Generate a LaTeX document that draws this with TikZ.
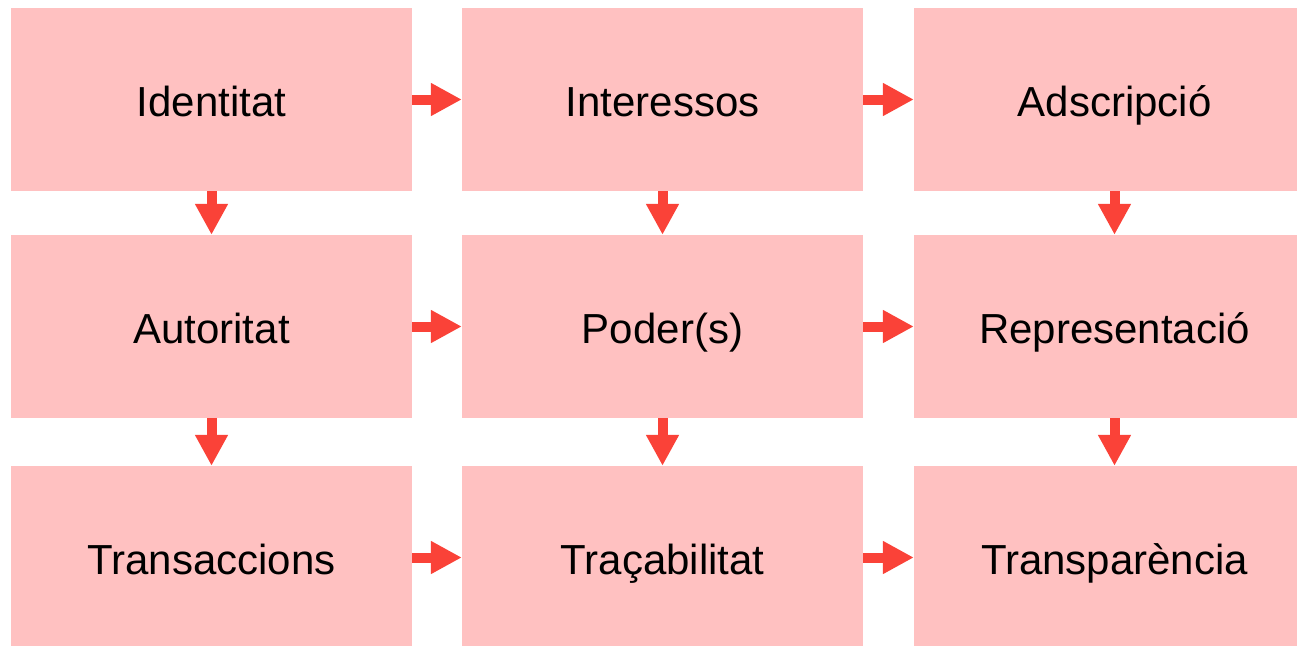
\documentclass[tikz,border=0pt]{standalone}
\usepackage{fontspec}
\setmainfont{Liberation Sans}
\usetikzlibrary{arrows.meta}
\definecolor{boxpink}{RGB}{255,193,193}
\definecolor{flowred}{RGB}{250,66,56}
\tikzset{
  box/.style={rectangle, fill=boxpink, inner sep=0pt, minimum width=401pt, minimum height=183pt,
    text height=40pt, text depth=7pt, font=\fontsize{42}{46}\selectfont},
  flow/.style={draw=flowred, line width=10pt, -{Triangle[length=31pt,width=31pt]}}
}
\begin{document}
\begin{tikzpicture}[x=1pt,y=-1pt]
\useasboundingbox (0,0) rectangle (1297,645);
\clip (0,0) rectangle (1297,645);
\node [box] (ident) at (211.5,99.5) {Identitat};
\node [box] (inter) at (662.5,99.5) {Interessos};
\node [box] (adscr) at (1114.5,99.5) {Adscripció};
\node [box] (autor) at (211.5,326.5) {Autoritat};
\node [box] (poder) at (662.5,326.5) {Poder(s)};
\node [box] (repre) at (1114.5,326.5) {Representació};
\node [box] (trans) at (211.5,557.5) {Transaccions};
\node [box] (traca) at (662.5,557.5) {Traçabilitat};
\node [box] (trpar) at (1114.5,557.5) {Transparència};
\draw [flow] (ident) -- (inter);
\draw [flow] (inter) -- (adscr);
\draw [flow] (autor) -- (poder);
\draw [flow] (poder) -- (repre);
\draw [flow] (trans) -- (traca);
\draw [flow] (traca) -- (trpar);
\draw [flow] (ident) -- (autor);
\draw [flow] (autor) -- (trans);
\draw [flow] (inter) -- (poder);
\draw [flow] (poder) -- (traca);
\draw [flow] (adscr) -- (repre);
\draw [flow] (repre) -- (trpar);
\end{tikzpicture}
\end{document}
